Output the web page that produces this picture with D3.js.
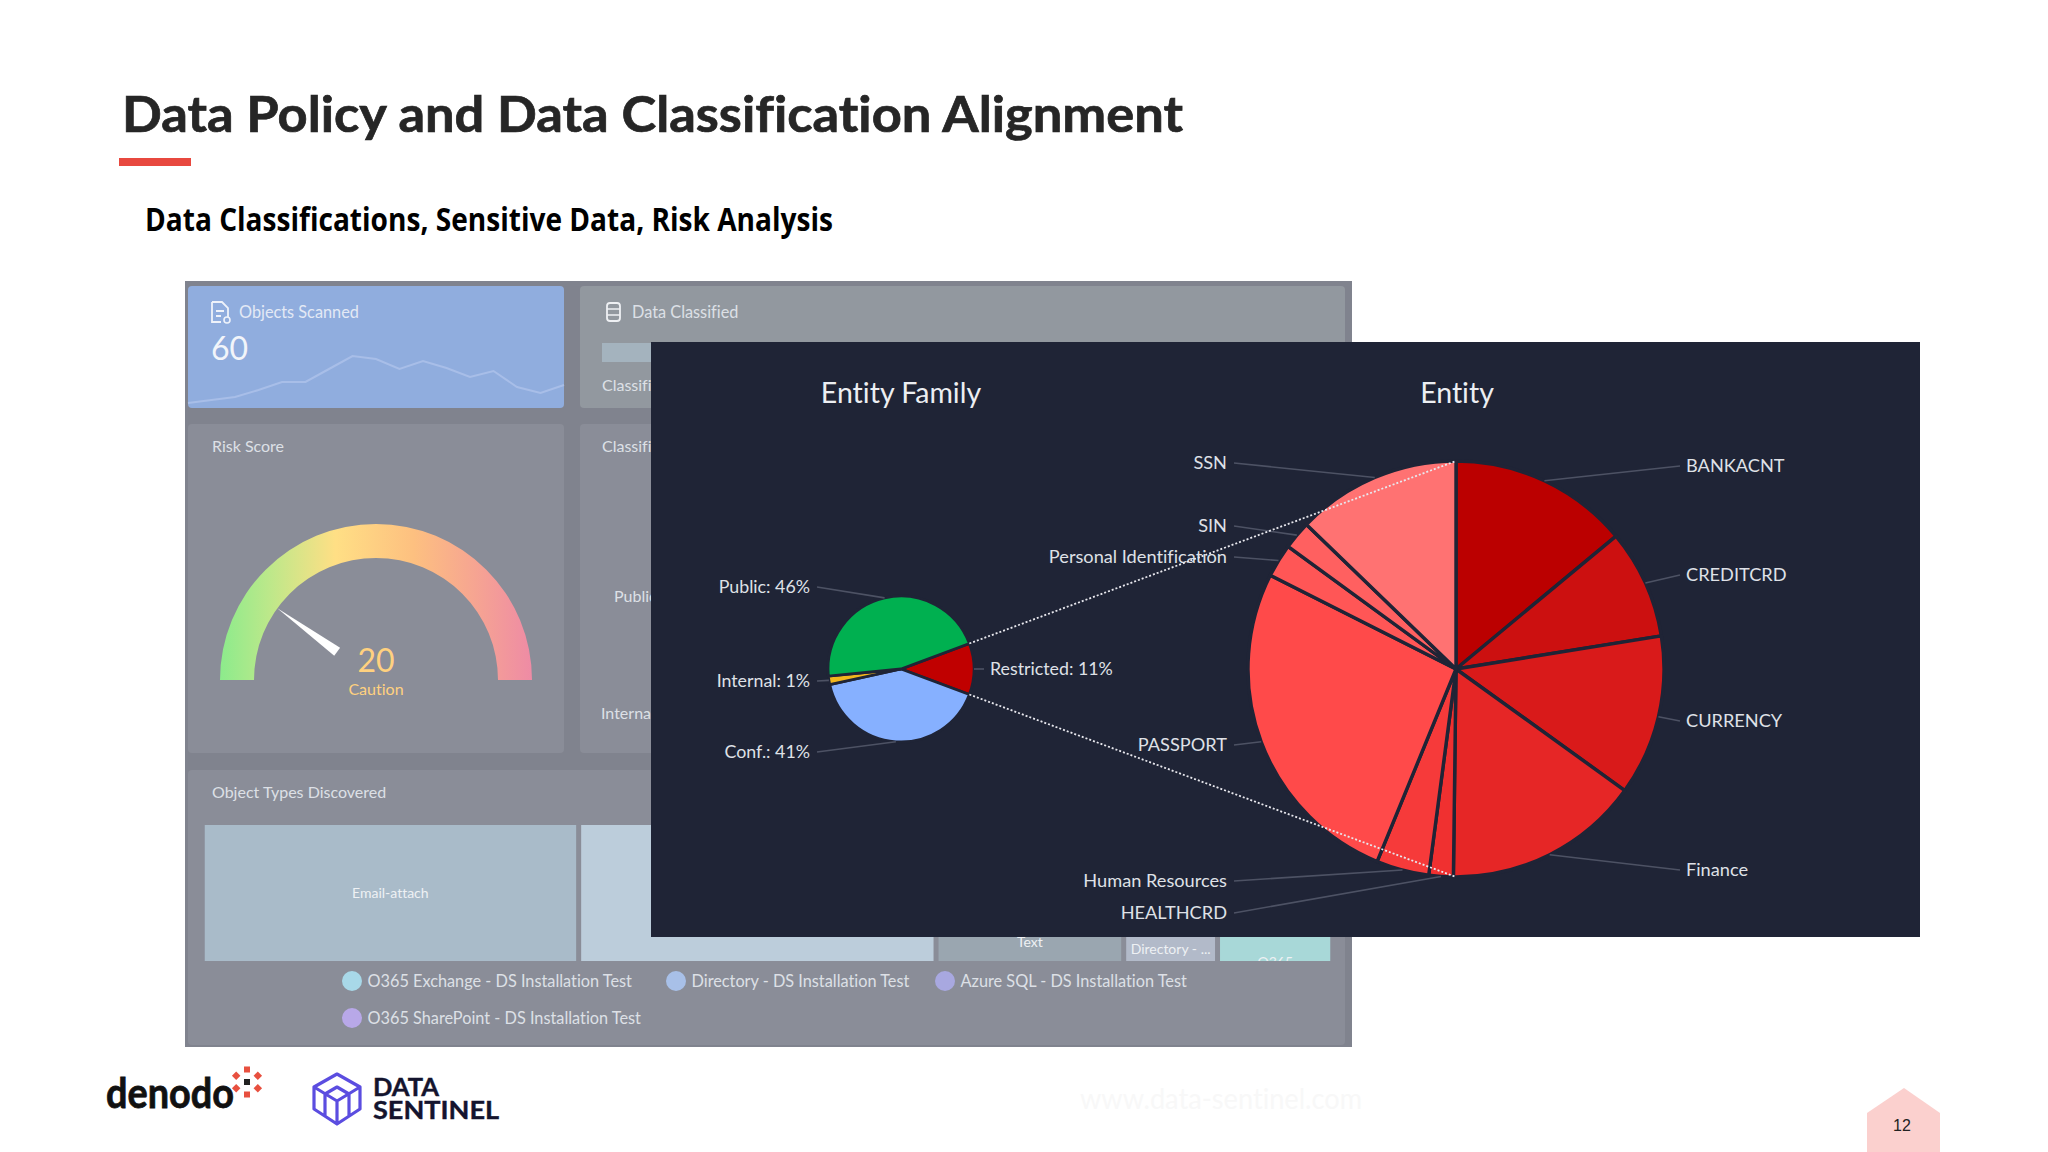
<!DOCTYPE html>
<html>
<head>
<meta charset="utf-8">
<style>
  html, body { margin: 0; padding: 0; background: #ffffff; }
  svg { display: block; }
  text { font-family: "Lato", "Open Sans", sans-serif; font-variant-ligatures: none; }
</style>
<script src="https://cdn.jsdelivr.net/npm/d3@7"></script>
</head>
<body>
<div id="slide"></div>
<script>
// Chart values (the slide truncates the percentages it prints)
const familyNames = ["Restricted", "Conf.", "Internal", "Public"];
const familyValues = [11.4, 41, 1.9, 46];
const familyColors = ["#c00000", "#86b0ff", "#f2b61d", "#00b050"];

const entityNames = ["BANKACNT", "CREDITCRD", "CURRENCY", "Finance", "HEALTHCRD", "Human Resources", "PASSPORT", "Personal Identification", "SIN", "SSN"];
const entityValues = [14, 8.5, 12.5, 15.3, 1.9, 4.1, 26.3, 2.6, 2.2, 12.8];
const entityColors = ["#bb0000", "#cc1010", "#d91a1a", "#e62626", "#f03030", "#f63a3a", "#ff4a4a", "#ff5656", "#ff6060", "#ff7272"];

const sparkValues = [5, 8, 11, 18, 26, 26, 39, 52, 49, 39, 47, 40, 31, 37, 21, 15, 23];
const riskScore = 20;

const tileNames = ["Email-attach", "", "", "Text", "Directory - ...", "O365"];
const tileValues = [371, 352, 281, 52, 26, 32];
const tileColors = ["#a9bbc9", "#bccddb", "#bccddb", "#9aa6b0", "#b2bac9", "#a8d8d8"];

const legendNames = ["O365 Exchange - DS Installation Test", "Directory - DS Installation Test", "Azure SQL - DS Installation Test", "O365 SharePoint - DS Installation Test"];
const legendColors = ["#a8d8e8", "#a8c0e8", "#a8a8e0", "#b8a8e8"];

// Where the leader lines end, in the same order as the names above
const familyLabelY = [669, 752, 681, 587];
const entityLabelY = [466, 575, 721, 870, 913, 881, 745, 557, 526, 463];
// Tile labels sit lower than the tile centre on the small tiles
const tileLabelShift = [0, 0, 0, -1, 6, 19];

const width = 2048;
const height = 1152;
const panelColor = "#1f2436";

const svg = d3.select("#slide").append("svg")
  .attr("width", width)
  .attr("height", height);

const defs = svg.append("defs");

// Slide header
svg.append("text").attr("x", 122).attr("y", 132)
  .attr("font-size", 50).attr("font-weight", 700).attr("fill", "#262626")
  .attr("stroke", "#262626").attr("stroke-width", 0.7)
  .attr("textLength", 1061).attr("lengthAdjust", "spacingAndGlyphs")
  .text("Data Policy and Data Classification Alignment");
svg.append("rect").attr("x", 119).attr("y", 158).attr("width", 72).attr("height", 8).attr("fill", "#e8483f");
svg.append("text").attr("x", 145).attr("y", 231)
  .attr("font-size", 32).attr("font-weight", 700).attr("fill", "#000000")
  .style("font-family", "'Open Sans'")
  .attr("textLength", 688).attr("lengthAdjust", "spacingAndGlyphs")
  .text("Data Classifications, Sensitive Data, Risk Analysis");

// Faded dashboard behind the panel
svg.append("rect").attr("x", 185).attr("y", 281).attr("width", 1167).attr("height", 766).attr("fill", "#80838e");

function card(x, y, w, h, fill) {
  svg.append("rect").attr("x", x).attr("y", y).attr("width", w).attr("height", h).attr("rx", 4).attr("fill", fill);
}
function dashText(str, x, y, size, fill, anchor) {
  return svg.append("text").attr("x", x).attr("y", y - 1)
    .attr("font-size", size)
    .attr("fill", fill || "#dde0e6")
    .attr("text-anchor", anchor || "start")
    .attr("dominant-baseline", "central")
    .text(str);
}

card(188, 286, 376, 122, "#90adde");
card(580, 286, 765, 122, "#92989f");
card(188, 424, 376, 329, "#8a8d98");
card(580, 424, 765, 329, "#8a8d98");
card(188, 770, 1157, 275, "#8a8d98");

// Objects Scanned sparkline
const sparkX = d3.scaleLinear().domain([0, sparkValues.length - 1]).range([188, 564]);
const sparkY = d3.scaleLinear().domain([0, 100]).range([408, 308]);
svg.append("path")
  .datum(sparkValues)
  .attr("d", d3.line().x((d, i) => sparkX(i)).y(d => sparkY(d)))
  .attr("fill", "none").attr("stroke", "#a8bee8").attr("stroke-width", 2);

// little document icon
svg.append("path")
  .attr("d", "M212,302 h10 l6,6 v9 M212,302 v20 h9 M216,311 h8 M216,316 h5")
  .attr("fill", "none").attr("stroke", "#eef2fa").attr("stroke-width", 1.8);
svg.append("circle").attr("cx", 227).attr("cy", 320).attr("r", 3).attr("fill", "none").attr("stroke", "#eef2fa").attr("stroke-width", 1.6);
dashText("Objects Scanned", 239, 312, 16.3, "#e3e9f5");
dashText("60", 211, 348, 32, "#f2f5fa");

// database icon
svg.append("rect").attr("x", 607).attr("y", 303).attr("width", 13).attr("height", 18).attr("rx", 3)
  .attr("fill", "none").attr("stroke", "#eef0f3").attr("stroke-width", 1.8);
svg.append("path").attr("d", "M607,309 h13 M607,315 h13").attr("stroke", "#eef0f3").attr("stroke-width", 1.5);
dashText("Data Classified", 632, 312, 16.3);
svg.append("rect").attr("x", 602).attr("y", 343).attr("width", 120).attr("height", 19).attr("fill", "#a4b3be");
dashText("Classified", 602, 385, 16);
dashText("Classification", 602, 446, 16);
dashText("Public", 614, 596, 16);
dashText("Internal", 601, 713, 16);
dashText("Risk Score", 212, 446, 16);

// Risk gauge
const gaugeCx = 376;
const gaugeCy = 680;
const gaugeAngle = d3.scaleLinear().domain([0, 100]).range([-Math.PI / 2, Math.PI / 2]);
// gradient is in the path's own translated space
const gaugeGrad = defs.append("linearGradient").attr("id", "gauge")
  .attr("gradientUnits", "userSpaceOnUse")
  .attr("x1", -156).attr("x2", 156).attr("y1", 0).attr("y2", 0);
[[0, "#8ceb8c"], [0.16, "#bde88a"], [0.37, "#ffdf85"], [0.62, "#fdc080"], [0.82, "#f6a492"], [1, "#ee8ba5"]].forEach(s => {
  gaugeGrad.append("stop").attr("offset", s[0]).attr("stop-color", s[1]);
});
svg.append("path")
  .attr("transform", `translate(${gaugeCx},${gaugeCy})`)
  .attr("d", d3.arc()({ innerRadius: 122, outerRadius: 156, startAngle: gaugeAngle(0), endAngle: gaugeAngle(100) }))
  .attr("fill", "url(#gauge)");

const needleA = gaugeAngle(riskScore);
const needleDir = [Math.sin(needleA), -Math.cos(needleA)];
const needleSide = [-needleDir[1], needleDir[0]];
const needlePts = [
  [needleDir[0] * 122, needleDir[1] * 122],
  [needleDir[0] * 48 + needleSide[0] * 5, needleDir[1] * 48 + needleSide[1] * 5],
  [needleDir[0] * 48 - needleSide[0] * 5, needleDir[1] * 48 - needleSide[1] * 5]
];
svg.append("polygon")
  .attr("transform", `translate(${gaugeCx},${gaugeCy})`)
  .attr("points", needlePts.map(p => p.join(",")).join(" "))
  .attr("fill", "#ffffff");
dashText(String(riskScore), gaugeCx, 660, 32, "#ffd17f", "middle");
dashText("Caution", gaugeCx, 689, 16, "#ffd17f", "middle");

// Object types treemap
dashText("Object Types Discovered", 212, 792, 16);
const tiles = tileNames.map((name, i) => ({ name: name, value: tileValues[i], color: tileColors[i], shift: tileLabelShift[i] }));
const treeRoot = d3.hierarchy({
  children: [tiles[0], tiles[1], { children: [tiles[2], { children: [tiles[3], tiles[4], tiles[5]] }] }]
}).sum(d => d.value || 0);
d3.treemap().size([1126, 136]).paddingInner(5).tile(d3.treemapSliceDice)(treeRoot);

const tileClip = defs.append("clipPath").attr("id", "tile-clip");
tileClip.append("rect").attr("x", 0).attr("y", 0).attr("width", 1126).attr("height", 136);
const tree = svg.append("g").attr("transform", "translate(204.5,825)").attr("clip-path", "url(#tile-clip)");
tree.selectAll("rect").data(treeRoot.leaves()).enter().append("rect")
  .attr("x", d => d.x0).attr("y", d => d.y0)
  .attr("width", d => d.x1 - d.x0).attr("height", d => d.y1 - d.y0)
  .attr("fill", d => d.data.color);
tree.selectAll("text").data(treeRoot.leaves()).enter().append("text")
  .attr("x", d => (d.x0 + d.x1) / 2).attr("y", d => (d.y0 + d.y1) / 2 + d.data.shift - 1)
  .attr("text-anchor", "middle").attr("dominant-baseline", "central")
  .attr("font-size", 14).attr("fill", "#eef1f4")
  .text(d => d.data.name);

// Legend of the treemap
const legendX = [352, 676, 945, 352];
const legendY = [981, 981, 981, 1018];
legendNames.forEach((name, i) => {
  svg.append("circle").attr("cx", legendX[i]).attr("cy", legendY[i]).attr("r", 10).attr("fill", legendColors[i]);
  dashText(name, legendX[i] + 15.5, legendY[i], 16.3);
});

// Dark panel with both pies
svg.append("rect").attr("x", 651).attr("y", 342).attr("width", 1269).attr("height", 595).attr("fill", panelColor);

function chartTitle(str, x) {
  svg.append("text").attr("x", x).attr("y", 392)
    .attr("text-anchor", "middle").attr("dominant-baseline", "central")
    .attr("font-size", 28.5).attr("fill", "#eceef2")
    .text(str);
}
chartTitle("Entity Family", 901);
chartTitle("Entity", 1457);

function drawPie(opts) {
  const slices = d3.pie().sort(null).startAngle(opts.start).endAngle(opts.start + 2 * Math.PI)(opts.values);
  const arc = d3.arc().innerRadius(0).outerRadius(opts.r);
  const g = svg.append("g").attr("transform", `translate(${opts.cx},${opts.cy})`);

  g.selectAll("path.slice").data(slices).enter().append("path")
    .attr("class", "slice")
    .attr("d", arc)
    .attr("fill", (d, i) => opts.colors[i])
    .attr("stroke", panelColor)
    .attr("stroke-width", opts.strokeWidth);

  slices.forEach((d, i) => {
    const mid = (d.startAngle + d.endAngle) / 2;
    const right = Math.sin(mid) > 0;
    const sx = Math.sin(mid) * opts.r;
    const sy = -Math.cos(mid) * opts.r;
    const ex = (right ? opts.rightX : opts.leftX) - opts.cx;
    const ey = opts.labelY[i] - opts.cy;
    g.append("line")
      .attr("x1", sx).attr("y1", sy).attr("x2", ex).attr("y2", ey)
      .attr("stroke", "#4d5264").attr("stroke-width", 1.6);
    g.append("text")
      .attr("x", ex + (right ? 6 : -7)).attr("y", ey - 1)
      .attr("text-anchor", right ? "start" : "end")
      .attr("dominant-baseline", "central")
      .attr("font-size", opts.fontSize).attr("fill", "#dfe1e7")
      .text(opts.label(i));
  });
  return slices;
}

const familyR = 73;
const entityR = 208;
const entityCx = 1456;
const familyStart = Math.PI / 2 - (familyValues[0] / d3.sum(familyValues)) * Math.PI;
const familySlices = drawPie({
  values: familyValues, colors: familyColors, labelY: familyLabelY,
  cx: 901, cy: 669, r: familyR, start: familyStart, strokeWidth: 2.8, fontSize: 17.8,
  leftX: 817, rightX: 984,
  label: i => `${familyNames[i]}: ${Math.floor(familyValues[i])}%`
});
drawPie({
  values: entityValues, colors: entityColors, labelY: entityLabelY,
  cx: entityCx, cy: 669, r: entityR, start: 0, strokeWidth: 3.4, fontSize: 18.2,
  leftX: 1234, rightX: 1680,
  label: i => entityNames[i]
});

// Dotted lines tie the Restricted slice to the big pie
const restricted = familySlices[0];
[[restricted.startAngle, 0], [restricted.endAngle, Math.PI]].forEach(pair => {
  svg.append("line")
    .attr("x1", 901 + Math.sin(pair[0]) * familyR).attr("y1", 669 - Math.cos(pair[0]) * familyR)
    .attr("x2", entityCx + Math.sin(pair[1]) * entityR).attr("y2", 669 - Math.cos(pair[1]) * entityR)
    .attr("stroke", "#e8e8ee").attr("stroke-width", 1.8).attr("stroke-dasharray", "2 2");
});

// Footer: logos, watermark, page number
svg.append("text").attr("x", 106).attr("y", 1108)
  .attr("font-size", 42).attr("font-weight", 700).attr("fill", "#111111")
  .attr("stroke", "#111111").attr("stroke-width", 0.8)
  .attr("textLength", 128).attr("lengthAdjust", "spacingAndGlyphs")
  .text("denodo");
svg.append("rect").attr("x", 244).attr("y", 1079).attr("width", 6).attr("height", 6).attr("fill", "#222222");
d3.range(6).forEach(i => {
  const a = i * Math.PI / 3;
  const dx = Math.sin(a) * 12.5;
  const dy = -Math.cos(a) * 12.5;
  svg.append("rect")
    .attr("x", 244 + dx).attr("y", 1079 + dy).attr("width", 6).attr("height", 6)
    .attr("fill", "#e8503f")
    .attr("transform", i % 3 === 0 ? null : `rotate(45 ${247 + dx} ${1082 + dy})`);
});

svg.append("path")
  .attr("d", "M337,1074 L360,1087 V1109 L337,1124 L314,1109 V1087 Z M314,1087 L337,1101 L360,1087 M325,1094 L337,1087 L349,1094 M325,1094 V1117 M337,1101 V1124 M349,1094 V1117")
  .attr("fill", "none").attr("stroke", "#5b4de0").attr("stroke-width", 3.2).attr("stroke-linejoin", "round");
svg.append("text").attr("x", 373).attr("y", 1096)
  .attr("font-size", 25).attr("font-weight", 700).attr("fill", "#14142e")
  .attr("stroke", "#14142e").attr("stroke-width", 0.4)
  .attr("textLength", 66).attr("lengthAdjust", "spacingAndGlyphs").text("DATA");
svg.append("text").attr("x", 373).attr("y", 1119)
  .attr("font-size", 25).attr("font-weight", 700).attr("fill", "#14142e")
  .attr("stroke", "#14142e").attr("stroke-width", 0.4)
  .attr("textLength", 126).attr("lengthAdjust", "spacingAndGlyphs").text("SENTINEL");

svg.append("text").attr("x", 1080).attr("y", 1109)
  .attr("font-size", 28).attr("fill", "#f8f8f8")
  .attr("textLength", 282).attr("lengthAdjust", "spacingAndGlyphs")
  .text("www.data-sentinel.com");

svg.append("polygon").attr("points", "1904,1088 1940,1113 1940,1152 1867,1152 1867,1113").attr("fill", "#fbd0ce");
svg.append("text").attr("x", 1902).attr("y", 1125)
  .attr("text-anchor", "middle").attr("dominant-baseline", "central")
  .attr("font-size", 16).attr("fill", "#222222").style("font-family", "'Liberation Sans'")
  .text("12");
</script>
</body>
</html>
